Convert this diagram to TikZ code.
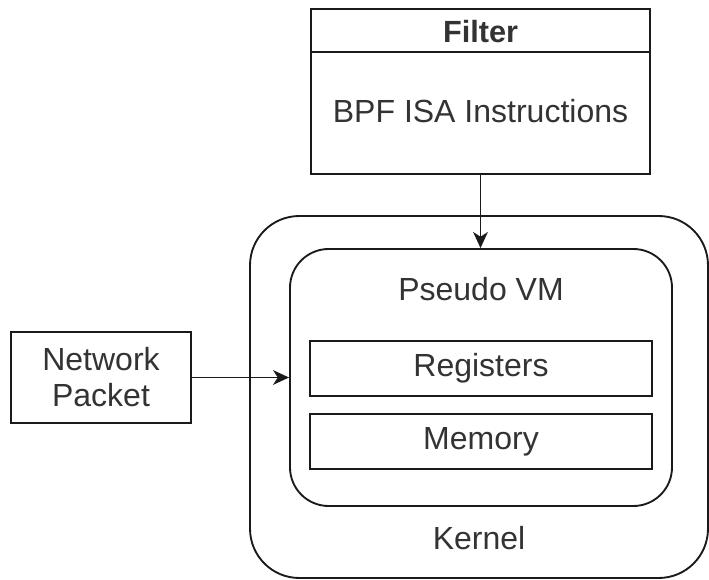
\documentclass[tikz,border=0pt]{standalone}
\usepackage{fontspec}
\setmainfont{Liberation Sans}
\usetikzlibrary{arrows.meta}
\definecolor{txt}{HTML}{333333}
\definecolor{ln}{HTML}{1A1A1A}
\begin{document}
\begin{tikzpicture}[x=0.75pt,y=-0.75pt,
  box/.style={draw=ln,line width=1.4pt,inner sep=0pt,text=txt,font=\fontsize{24}{27}\selectfont,align=center},
  lbl/.style={text=txt,font=\fontsize{24}{27}\selectfont,inner sep=0pt},
  arr/.style={draw=ln,line width=1.4pt,-{Stealth[length=12pt,width=11pt,inset=3.5pt]}}]
\useasboundingbox (0,0) rectangle (709,580);
% Kernel
\node[box,rounded corners=37pt,minimum width=343.5pt,minimum height=271.5pt] (kernel) at (479,397) {};
\node[lbl] (klbl) at (479,538) {Kernel};
% Pseudo VM
\node[box,rounded corners=29pt,minimum width=286.5pt,minimum height=192.75pt] (pvm) at (481,377.5) {};
\node[lbl] (plbl) at (481,289) {Pseudo VM};
\node[box,minimum width=256.5pt,minimum height=41.25pt] (reg) at (481,368.5) {Registers};
\node[box,minimum width=256.5pt,minimum height=41.25pt] (mem) at (481,441.5) {Memory};
% Filter
\node[box,minimum width=254.25pt,minimum height=123.75pt] (filter) at (480.5,91.5) {};
\coordinate (hl) at (311,52);
\coordinate (hr) at (650,52);
\draw[ln,line width=1.4pt] (hl) -- (hr);
\node[lbl,font=\bfseries\fontsize{23}{26}\selectfont] (ftitle) at (480.5,32) {Filter};
\node[lbl] (fbody) at (480.5,111) {BPF ISA Instructions};
% Network Packet
\node[box,minimum width=135pt,minimum height=68.25pt] (np) at (101,377.5) {Network\\Packet};
% Connectors
\draw[arr] (filter.south) -- (filter.south |- pvm.north);
\draw[arr] (np.east) -- (pvm.west);
\end{tikzpicture}
\end{document}
